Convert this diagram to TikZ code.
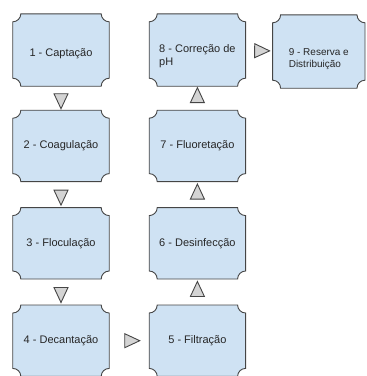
\documentclass[tikz,border=0pt]{standalone}
\usepackage{fontspec}
\setmainfont{Liberation Sans}
\usetikzlibrary{positioning, calc, backgrounds, shapes.geometric}
\definecolor{ink}{HTML}{454545}
\definecolor{stepfill}{HTML}{CFE2F3}
\definecolor{arrfill}{HTML}{D4D4D4}
\newcommand{\plaque}[1]{%
  \draw[plaqueline] ($(#1.north west)+(0,-8pt)$) arc[start angle=270, end angle=360, radius=8pt]
    -- ($(#1.north east)+(-8pt,0)$) arc[start angle=180, end angle=270, radius=8pt]
    -- ($(#1.south east)+(0,8pt)$) arc[start angle=90, end angle=180, radius=8pt]
    -- ($(#1.south west)+(8pt,0)$) arc[start angle=0, end angle=90, radius=8pt] -- cycle;}
% text set a little lower than the box centre
\newcommand{\lowered}[2]{\raisebox{-#1}[\height][\depth]{\begin{tabular}{@{}l@{}}#2\end{tabular}}}

\begin{document}
\begin{tikzpicture}[
  x=1pt, y=1pt,
  node distance=26pt and 40pt,
  stepbox/.style={minimum width=96pt, minimum height=71pt, inner sep=3pt,
                  align=left, font=\fontsize{11}{13}\selectfont, text=black!85},
  plaqueline/.style={draw=ink, fill=stepfill, line width=0.9pt},
  flowtri/.style={isosceles triangle, isosceles triangle stretches, draw=ink,
                  fill=arrfill, line width=0.9pt, inner sep=0pt,
                  minimum width=14pt, minimum height=15pt, sloped}
]
\useasboundingbox (0,0) rectangle (367,-376);

\node[stepbox, minimum height=72pt] (capt) at (61,-50) {\lowered{4pt}{1 - Captação}};
\node[stepbox, below=24pt of capt] (coag) {2 - Coagulação};
\node[stepbox, below=of coag] (flocu) {3 - Floculação};
\node[stepbox, below=of flocu] (decan) {4 - Decantação};

\node[stepbox, minimum height=72pt, right=of capt] (corr) {\lowered{6pt}{8 - Correção de\\pH}};
\node[stepbox, below=24pt of corr] (fluor) {7 - Fluoretação};
\node[stepbox, below=of fluor] (desinf) {6 - Desinfecção};
\node[stepbox, below=of desinf] (filt) {5 - Filtração};

\node[stepbox, minimum height=73pt, minimum width=92pt, anchor=north west,
      font=\fontsize{10}{12}\selectfont] (reserva) at ($(corr.north east)+(27pt,-1pt)$)
      {\lowered{8pt}{9 - Reserva e\\Distribuição}};

% box outlines
\begin{scope}[on background layer]
  \foreach \n in {capt, coag, flocu, decan, corr, fluor, desinf, filt, reserva}
    {\plaque{\n}}
\end{scope}

% flow triangles
\path (capt) -- (coag) node[flowtri, midway] (t1) {};
\path (coag) -- (flocu) node[flowtri, midway] (t2) {};
\path (flocu) -- (decan) node[flowtri, midway] (t3) {};
\path (decan) -- (filt) node[flowtri, midway] (t4) {};
\path (filt) -- (desinf) node[flowtri, midway] (t5) {};
\path (desinf) -- (fluor) node[flowtri, midway] (t6) {};
\path (fluor) -- (corr) node[flowtri, midway] (t7) {};
\path (corr) -- (reserva) node[flowtri, midway] (t8) {};

\end{tikzpicture}
\end{document}
